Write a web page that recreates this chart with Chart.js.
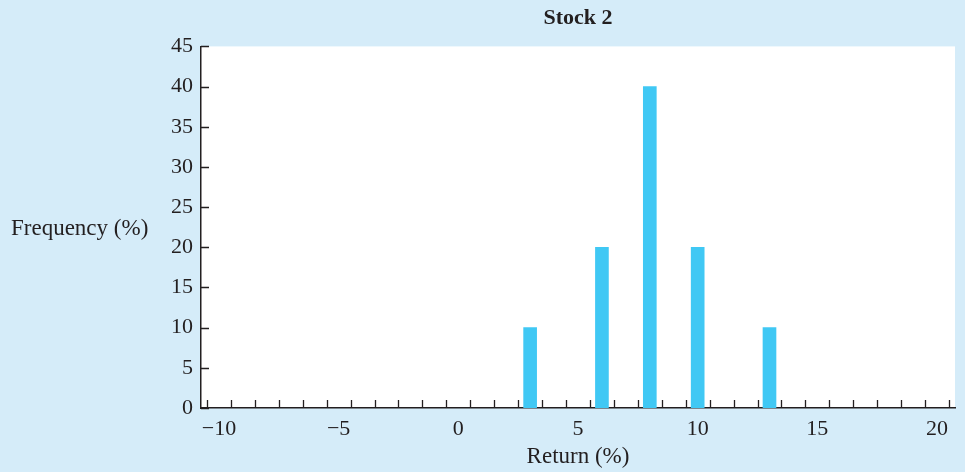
<!DOCTYPE html>
<html>

<head>
    <title>Stock 2</title>
    <meta charset="utf-8">
    <style>
        body { margin: 0; background: #d5ecf9; }
        #wrap { width: 965px; height: 472px; }
    </style>
</head>

<body>
    <div id="wrap"><canvas id="myChart"></canvas></div>

    <script src="https://cdn.jsdelivr.net/npm/chart.js"></script>
    <script>
        const returns = [3, 6, 8, 10, 13];
        const frequency = [10, 20, 40, 20, 10];
        const xMin = -10.5, xMax = 20.5;
        const yMax = 45;

        const serif = "'Liberation Serif', 'Times New Roman', serif";
        const ink = "#231f20";

        // white plot area, inward tick marks and the horizontal y title
        const decor = {
            id: "decor",
            beforeDraw(chart) {
                const a = chart.chartArea, c = chart.ctx;
                c.save();
                c.fillStyle = "#ffffff";
                c.fillRect(a.left, a.top, a.right - a.left, a.bottom - a.top);
                c.restore();
            },
            afterDraw(chart) {
                const a = chart.chartArea, c = chart.ctx;
                const xs = chart.scales.x, ys = chart.scales.y;
                c.save();
                c.strokeStyle = ink;
                c.lineWidth = 1.3;
                c.beginPath();
                xs.ticks.forEach(t => {
                    if (Math.abs(t.value % 1) === 0.5) {
                        const px = Math.round(xs.getPixelForValue(t.value)) + 0.5;
                        c.moveTo(px, a.bottom);
                        c.lineTo(px, a.bottom - 8);
                    }
                });
                ys.ticks.forEach(t => {
                    const py = Math.round(ys.getPixelForValue(t.value)) + 0.5;
                    c.moveTo(a.left, py);
                    c.lineTo(a.left + 8, py);
                });
                c.stroke();
                c.fillStyle = ink;
                c.font = "23px " + serif;
                c.textAlign = "left";
                c.textBaseline = "middle";
                c.fillText("Frequency (%)", 11, (a.top + a.bottom) / 2 + 2);
                c.restore();
            }
        };

        const ctx = document.getElementById("myChart");

        let chart = new Chart(ctx, {
            type: "bar",
            data: {
                datasets: [{
                    label: "Stock 2",
                    data: returns.map((r, i) => ({ x: r, y: frequency[i] })),
                    backgroundColor: "#40c8f4",
                    barThickness: 13
                }]
            },
            plugins: [decor],
            options: {
                responsive: true,
                maintainAspectRatio: false,
                animation: false,
                layout: { padding: { left: 0, right: 10, top: 0, bottom: 0 } },
                plugins: {
                    legend: { display: false },
                    tooltip: { enabled: false },
                    title: {
                        display: true,
                        text: "Stock 2",
                        fullSize: false,
                        color: ink,
                        font: { family: serif, size: 22, weight: "bold" },
                        padding: { top: 5, bottom: 15 }
                    }
                },
                scales: {
                    x: {
                        type: "linear",
                        min: xMin,
                        max: xMax,
                        grid: { display: false },
                        border: { display: true, color: ink, width: 1.5 },
                        ticks: {
                            stepSize: 0.5,
                            maxTicksLimit: 200,
                            autoSkip: false,
                            maxRotation: 0,
                            padding: 0,
                            color: ink,
                            font: { family: serif, size: 22 },
                            callback: v => (v % 5 === 0 ? (v < 0 ? "\u2212" + Math.abs(v) : String(v)) : "")
                        },
                        title: {
                            display: true,
                            text: "Return (%)",
                            color: ink,
                            font: { family: serif, size: 23 },
                            padding: { top: 0, bottom: 1 }
                        },
                        afterFit: s => { s.height = 64; }
                    },
                    y: {
                        min: 0,
                        max: yMax,
                        grid: { display: false },
                        border: { display: true, color: ink, width: 1.5 },
                        ticks: {
                            stepSize: 5,
                            padding: 0,
                            color: ink,
                            font: { family: serif, size: 22 }
                        },
                        afterFit: s => { s.width = 201; }
                    }
                }
            }
        });
    </script>
</body>

</html>
